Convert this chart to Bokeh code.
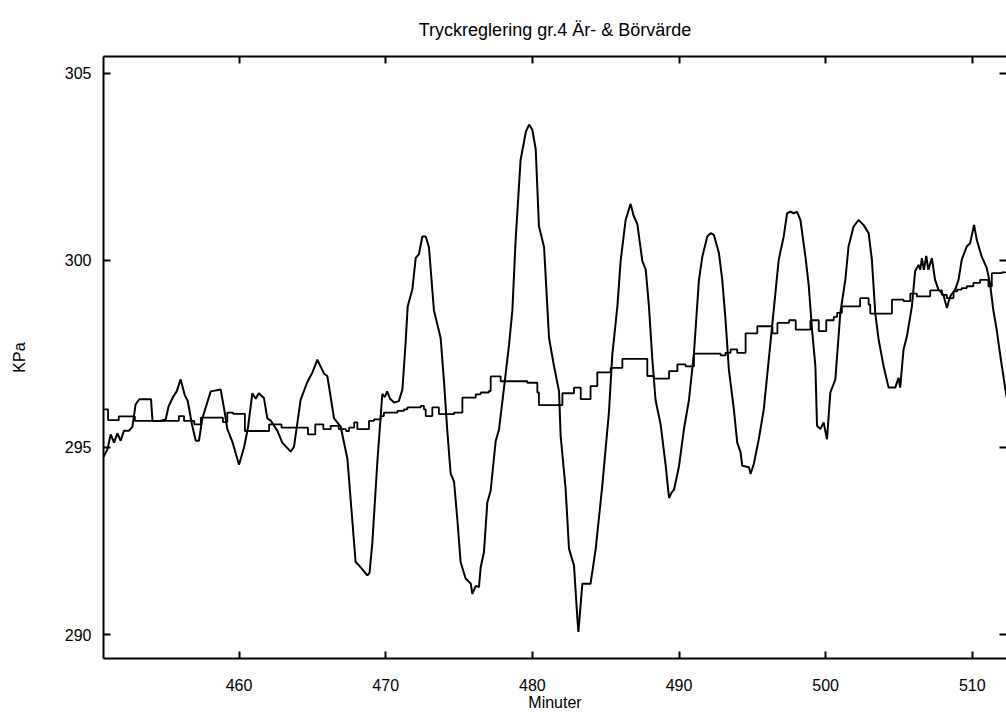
from bokeh.plotting import figure
from bokeh.models import LinearAxis, FixedTicker, Range1d
from bokeh.embed import file_html
from bokeh.resources import INLINE

title_text = "Tryckreglering gr.4 Är- & Börvärde"
x_label = "Minuter"
y_label = "KPa"
x_ticks = [460, 470, 480, 490, 500, 510]
y_ticks = [290, 295, 300, 305]

# Ärvärde (actual pressure), minutes / kPa
act_t = [450.76, 451.03, 451.25, 451.48, 451.70, 451.93, 452.16, 452.50, 452.73, 452.95,
         453.20, 454.00, 454.10, 454.60, 455.00, 455.20, 455.50, 455.75, 456.02, 456.30,
         456.50, 456.80, 457.05, 457.27, 457.50, 458.07, 458.75, 459.00, 459.20, 459.55,
         460.00, 460.34, 460.60, 460.91, 461.14, 461.35, 461.70, 461.93, 462.16, 462.61,
         462.95, 463.52, 463.75, 464.20, 464.66, 465.00, 465.34, 465.80, 466.02, 466.48,
         466.93, 467.39, 467.95, 468.18, 468.75, 468.90, 469.09, 469.43, 469.77, 469.95,
         470.10, 470.30, 470.57, 470.90, 471.14, 471.36, 471.50, 471.82, 472.05, 472.27,
         472.50, 472.73, 472.95, 473.29, 473.75, 473.97, 474.20, 474.43, 474.66, 474.89,
         475.11, 475.45, 475.80, 475.91, 476.14, 476.36, 476.48, 476.70, 476.93, 477.16,
         477.50, 477.73, 478.07, 478.41, 478.64, 478.86, 479.20, 479.56, 479.78, 480.00,
         480.23, 480.45, 480.80, 481.14, 481.48, 481.82, 481.93, 482.27, 482.50, 482.84,
         483.07, 483.14, 483.41, 483.97, 484.32, 484.77, 485.22, 485.45, 485.80, 486.02,
         486.36, 486.70, 486.90, 487.16, 487.50, 487.73, 487.95, 488.18, 488.40, 488.75,
         489.09, 489.32, 489.50, 489.66, 490.00, 490.34, 490.68, 491.02, 491.36, 491.59,
         491.93, 492.16, 492.38, 492.72, 492.95, 493.17, 493.40, 493.74, 493.97, 494.20,
         494.31, 494.77, 494.88, 495.10, 495.44, 495.78, 496.12, 496.46, 496.80, 497.14,
         497.37, 497.60, 497.82, 498.05, 498.28, 498.62, 498.85, 499.07, 499.30, 499.41,
         499.64, 499.86, 500.09, 500.32, 500.66, 501.00, 501.34, 501.56, 501.90, 502.24,
         502.58, 502.93, 503.15, 503.38, 503.61, 503.95, 504.29, 504.74, 504.97, 505.08,
         505.31, 505.54, 505.88, 506.10, 506.33, 506.45, 506.56, 506.70, 506.86, 507.00,
         507.24, 507.46, 507.69, 508.03, 508.26, 508.49, 508.83, 509.06, 509.28, 509.62,
         509.85, 510.12, 510.30, 510.64, 510.98, 511.20, 511.43, 511.66, 511.88, 512.22,
         512.40]
act_kpa = [294.75, 294.95, 295.35, 295.13, 295.38, 295.18, 295.45, 295.45, 295.55, 296.15,
           296.29, 296.29, 295.71, 295.71, 295.75, 296.10, 296.35, 296.50, 296.82, 296.40,
           296.25, 295.60, 295.18, 295.18, 295.78, 296.50, 296.55, 296.00, 295.50, 295.15,
           294.54, 295.00, 295.50, 296.45, 296.30, 296.45, 296.32, 295.78, 295.72, 295.45,
           295.13, 294.89, 295.02, 296.27, 296.75, 297.00, 297.35, 296.97, 296.91, 295.78,
           295.56, 294.70, 291.94, 291.85, 291.58, 291.65, 292.45, 294.60, 296.43, 296.35,
           296.50, 296.30, 296.20, 296.24, 296.55, 297.80, 298.77, 299.23, 300.07, 300.17,
           300.64, 300.64, 300.35, 298.67, 297.92, 296.80, 295.45, 294.30, 294.09, 293.06,
           291.94, 291.50, 291.36, 291.09, 291.30, 291.27, 291.80, 292.20, 293.53, 293.85,
           295.17, 295.49, 296.60, 297.74, 298.67, 300.54, 302.69, 303.44, 303.63, 303.49,
           302.97, 300.92, 300.35, 297.92, 297.17, 296.50, 295.31, 293.89, 292.29, 291.85,
           290.43, 290.07, 291.36, 291.36, 292.29, 293.98, 295.93, 297.47, 298.78, 299.98,
           301.08, 301.51, 301.20, 300.97, 299.98, 299.76, 298.78, 297.36, 296.27, 295.61,
           294.52, 293.65, 293.80, 293.87, 294.50, 295.50, 296.27, 297.53, 299.48, 300.10,
           300.64, 300.73, 300.68, 300.20, 299.48, 298.42, 297.09, 296.02, 295.13, 294.87,
           294.51, 294.47, 294.29, 294.56, 295.22, 296.02, 297.35, 298.68, 300.02, 300.64,
           301.26, 301.30, 301.26, 301.30, 301.08, 300.10, 299.31, 298.15, 297.17, 295.58,
           295.49, 295.67, 295.22, 296.47, 296.82, 298.60, 299.48, 300.37, 300.90, 301.08,
           300.95, 300.73, 300.02, 298.60, 297.89, 297.17, 296.60, 296.60, 296.86, 296.60,
           297.62, 297.97, 298.77, 299.71, 299.88, 299.75, 300.06, 299.75, 300.12, 299.75,
           300.06, 299.48, 299.22, 299.08, 298.73, 299.04, 299.22, 299.48, 300.02, 300.37,
           300.46, 300.95, 300.55, 300.10, 299.80, 299.40, 298.68, 298.15, 297.53, 296.64,
           296.20]

# Börvärde (setpoint), minutes / kPa, held until next change
set_t = [450.76, 451.07, 451.80, 452.90, 455.90, 456.25, 456.95, 457.40, 458.90, 459.20,
         459.60, 460.40, 462.05, 462.90, 464.70, 465.20, 465.75, 466.25, 466.80, 467.30,
         467.50, 467.85, 468.07, 468.86, 469.20, 469.66, 469.88, 470.80, 471.25, 471.48,
         472.39, 472.61, 472.73, 473.18, 473.63, 474.66, 475.23, 476.14, 476.48, 477.04,
         477.16, 477.84, 479.66, 480.34, 480.45, 482.05, 482.84, 483.30, 483.97, 484.43,
         485.34, 486.14, 487.84, 488.29, 489.32, 489.89, 490.45, 491.02, 492.84, 493.17,
         493.52, 493.97, 494.54, 495.34, 496.37, 496.71, 497.50, 497.96, 498.96, 499.53,
         500.04, 500.55, 500.78, 501.11, 502.35, 502.93, 503.04, 504.52, 505.31, 505.77,
         506.22, 507.13, 507.92, 508.26, 508.72, 508.96, 509.28, 509.62, 510.07, 510.53,
         511.10, 511.33, 512.00, 512.40]
set_kpa = [296.02, 295.73, 295.83, 295.71, 295.84, 295.71, 295.62, 295.80, 295.68, 295.93,
           295.90, 295.44, 295.62, 295.53, 295.35, 295.62, 295.49, 295.58, 295.49, 295.44,
           295.53, 295.67, 295.49, 295.71, 295.75, 295.84, 295.93, 295.98, 296.02, 296.07,
           296.11, 296.02, 295.84, 296.07, 295.89, 295.93, 296.33, 296.42, 296.47, 296.51,
           296.90, 296.77, 296.73, 296.47, 296.13, 296.45, 296.60, 296.29, 296.64, 297.01,
           297.13, 297.37, 296.91, 296.84, 297.04, 297.22, 297.17, 297.51, 297.46, 297.53,
           297.62, 297.53, 298.05, 298.24, 298.05, 298.33, 298.40, 298.15, 298.40, 298.11,
           298.40, 298.49, 298.60, 298.77, 298.99, 298.82, 298.58, 298.95, 298.91, 299.11,
           299.04, 299.20, 299.08, 298.99, 299.17, 299.22, 299.26, 299.31, 299.40, 299.48,
           299.31, 299.66, 299.68, 299.57]

FONT = "Liberation Sans"

p = figure(width=1006, height=713, output_backend="svg", toolbar_location=None,
           x_range=Range1d(450.76, 512.33), y_range=Range1d(289.36, 305.45),
           min_border_left=103, min_border_right=0, min_border_top=56, min_border_bottom=53,
           background_fill_color="white", border_fill_color="white",
           outline_line_color=None)

p.title.text = title_text
p.title.align = "center"
p.title.text_font = FONT
p.title.text_font_size = "18px"
p.title.text_font_style = "normal"
p.title.text_color = "black"
p.title.standoff = 34

p.xgrid.visible = False
p.ygrid.visible = False

def style_axis(ax, ticks, labels=True):
    ax.ticker = FixedTicker(ticks=ticks)
    ax.minor_tick_line_color = None
    ax.major_tick_in = 7
    ax.major_tick_out = 0
    ax.major_tick_line_color = "black"
    ax.major_tick_line_width = 2
    ax.axis_line_color = "black"
    ax.axis_line_width = 2
    if labels:
        ax.major_label_text_font = FONT
        ax.major_label_text_font_size = "16px"
        ax.major_label_text_color = "black"
        ax.axis_label_text_font = FONT
        ax.axis_label_text_font_size = "16px"
        ax.axis_label_text_font_style = "normal"
        ax.axis_label_text_color = "black"
    else:
        ax.major_label_overrides = {t: "" for t in ticks}
        ax.major_label_standoff = 0

xb = p.xaxis[0]
style_axis(xb, x_ticks)
xb.axis_label = x_label
xb.major_label_standoff = 20
xb.axis_label_standoff = 0

yl = p.yaxis[0]
style_axis(yl, y_ticks)
yl.axis_label = y_label
yl.major_label_standoff = 12
yl.axis_label_standoff = 34

xt = LinearAxis()
style_axis(xt, x_ticks, labels=False)
p.add_layout(xt, "above")

yr = LinearAxis()
style_axis(yr, y_ticks, labels=False)
yr.axis_line_color = None
p.add_layout(yr, "right")

p.line(act_t, act_kpa, line_color="black", line_width=2)
p.step(set_t, set_kpa, mode="after", line_color="black", line_width=1.8)

open("out.html", "w").write(file_html(p, INLINE))
